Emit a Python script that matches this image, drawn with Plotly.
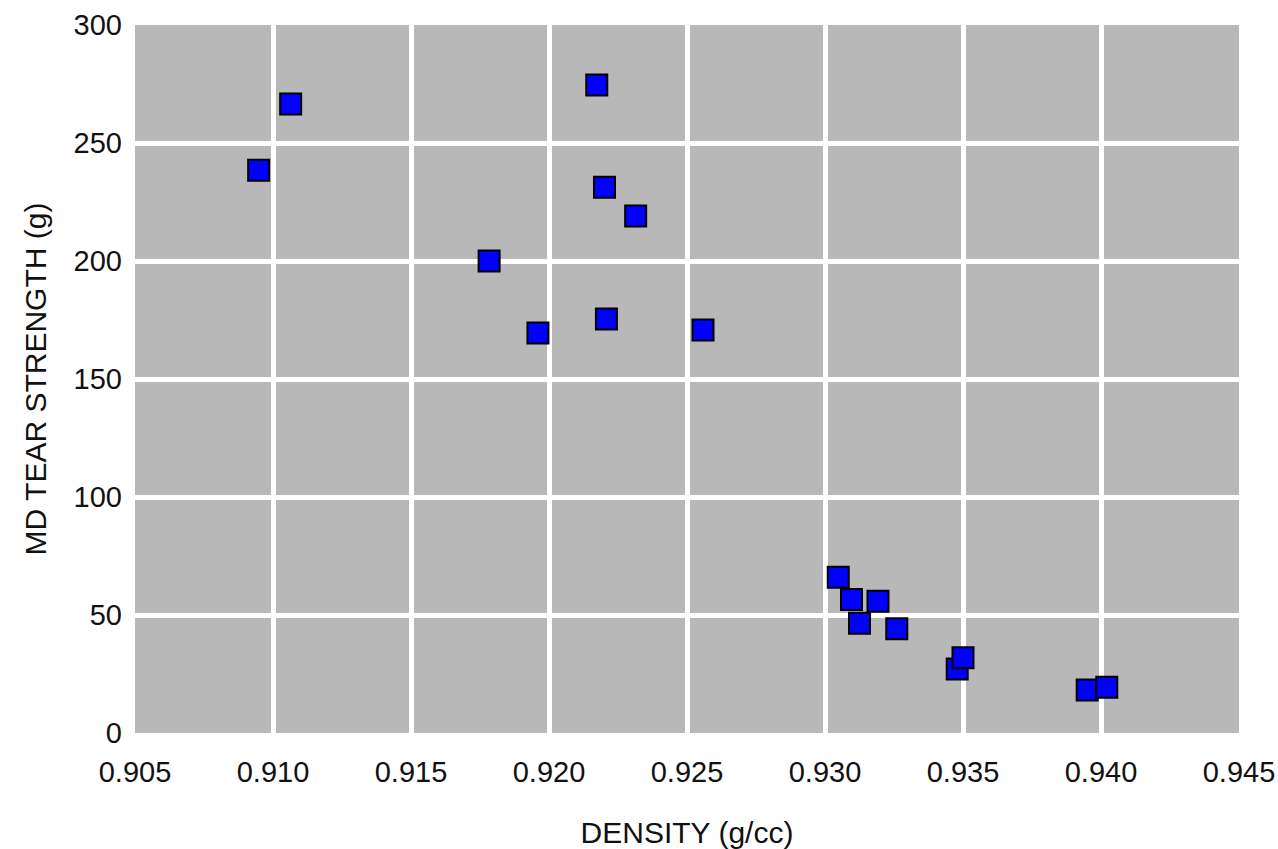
import plotly.graph_objects as go

density = [0.90948, 0.91064, 0.92173, 0.92201, 0.92314, 0.91783, 0.91960, 0.92208, 0.92558,
           0.93048, 0.93096, 0.93192, 0.93125, 0.93260, 0.93479, 0.93500, 0.93950, 0.94021]
tear = [238.5, 266.5, 274.6, 231.3, 219.1, 200.0, 169.5, 175.4, 170.8,
        66.0, 56.6, 55.8, 46.5, 44.2, 27.1, 31.9, 18.2, 19.4]

x_ticks = [0.905, 0.910, 0.915, 0.920, 0.925, 0.930, 0.935, 0.940, 0.945]
y_ticks = [0, 50, 100, 150, 200, 250, 300]

font = dict(family="Liberation Sans, Arial, sans-serif", size=30, color="#111111")
tickfont = dict(family="Liberation Sans, Arial, sans-serif", size=29, color="#111111")

fig = go.Figure(go.Scatter(
    x=density, y=tear, mode="markers",
    marker=dict(symbol="square", size=21, color="#0000ff",
                line=dict(color="#000000", width=2)),
    hoverinfo="x+y",
))

fig.update_layout(
    width=1278, height=849,
    margin=dict(l=135, r=39, t=25, b=116),
    paper_bgcolor="white", plot_bgcolor="#b8b8b8",
    font=font, showlegend=False,
    xaxis=dict(range=[0.9049999, 0.9450001], tickvals=x_ticks,
               ticktext=[f"{v:.3f}" for v in x_ticks],
               tickfont=tickfont,
               showgrid=True, gridcolor="white", gridwidth=5,
               zeroline=False, showline=False, ticks="",
               ticklabelstandoff=19, automargin=False,
               ticklabeloverflow="allow",
               title=dict(text="DENSITY (g/cc)", font=font, standoff=38)),
    yaxis=dict(range=[0, 300.0001], tickvals=y_ticks,
               tickfont=tickfont,
               showgrid=True, gridcolor="white", gridwidth=5,
               zeroline=False, showline=False, ticks="",
               ticklabelstandoff=12, automargin=False,
               ticklabeloverflow="allow",
               title=dict(text="MD TEAR STRENGTH (g)", font=font, standoff=18)),
)

fig.write_html("out.html")
